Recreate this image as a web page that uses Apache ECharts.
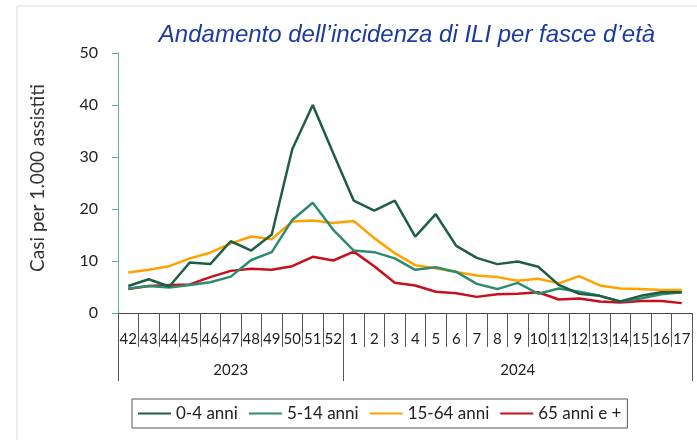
<!DOCTYPE html>
<html>
<head>
<meta charset="utf-8">
<script src="https://cdn.jsdelivr.net/npm/echarts@6/dist/echarts.min.js"></script>
<style>
html,body{margin:0;padding:0;background:#fff;}
#chart{width:697px;height:440px;}
</style>
</head>
<body>
<div id="chart"></div>
<script>
var weeks = ['42','43','44','45','46','47','48','49','50','51','52','1','2','3','4','5','6','7','8','9','10','11','12','13','14','15','16','17'];
var years = ['2023','2024'];
var yearWeekCounts = [11, 17];
var seriesNames = ['0-4 anni','5-14 anni','15-64 anni','65 anni e +'];
var age0_4 = [5.2, 6.5, 5.1, 9.7, 9.4, 13.8, 12.0, 15.1, 31.5, 40.0, 30.7, 21.6, 19.7, 21.6, 14.7, 19.0, 12.9, 10.6, 9.4, 9.9, 8.9, 5.4, 3.7, 3.3, 2.2, 3.3, 4.0, 4.0];
var age5_14 = [4.7, 5.2, 4.9, 5.4, 5.9, 7.0, 10.2, 11.7, 17.9, 21.2, 16.0, 12.0, 11.7, 10.5, 8.3, 8.8, 7.9, 5.6, 4.6, 5.8, 3.7, 4.7, 4.1, 3.3, 2.2, 2.8, 3.6, 4.0];
var age15_64 = [7.8, 8.3, 9.0, 10.5, 11.6, 13.4, 14.7, 14.2, 17.6, 17.8, 17.3, 17.7, 14.4, 11.5, 9.2, 8.6, 7.9, 7.2, 6.9, 6.2, 6.6, 5.7, 7.1, 5.3, 4.7, 4.6, 4.4, 4.4];
var age65plus = [4.6, 5.2, 5.4, 5.5, 6.9, 8.1, 8.5, 8.3, 9.0, 10.8, 10.1, 11.8, 9.0, 5.8, 5.3, 4.1, 3.8, 3.1, 3.6, 3.7, 4.0, 2.6, 2.8, 2.2, 2.0, 2.3, 2.3, 1.9];
var yTicks = {min: 0, max: 50, interval: 10};

// Year axis: label at the middle week of each year span, ticks at span boundaries
var yearLabelAt = {};
var yearStartAt = {};
var start = 0;
yearWeekCounts.forEach(function (n, k) {
  yearStartAt[start] = true;
  yearLabelAt[start + Math.floor((n - 1) / 2)] = years[k];
  start += n;
});

var colors = ['#1f5e45', '#2e8c6e', '#ffa200', '#c8101c'];
var FONT = 'Lato';

var chart = echarts.init(document.getElementById('chart'), null, {renderer: 'canvas'});
chart.setOption({
  animation: false,
  backgroundColor: '#ffffff',
  title: {
    text: 'Andamento dell\u2019incidenza di ILI per fasce d\u2019et\u00e0',
    left: 402, top: 18, textAlign: 'center',
    textStyle: {fontFamily: 'Liberation Sans', fontStyle: 'italic', fontWeight: 'normal', fontSize: 24, color: '#1a3c9e'}
  },
  graphic: [
    {type: 'polyline', shape: {points: [[17, 440], [17, 6], [697, 6]]}, style: {stroke: '#d5dcdc', lineWidth: 1, fill: null}, silent: true}
  ],
  legend: {
    data: seriesNames,
    left: 132, top: 399,
    icon: 'rect', itemWidth: 33, itemHeight: 2, itemGap: 11,
    padding: [6, 6],
    borderColor: '#555555', borderWidth: 1,
    textStyle: {fontFamily: FONT, fontSize: 17, color: '#222'}
  },
  grid: {left: 118, right: 5, top: 53, bottom: 127, containLabel: false},
  xAxis: [
    {
      type: 'category', data: weeks, position: 'bottom',
      axisLine: {show: true, lineStyle: {color: '#444', width: 1}},
      axisTick: {show: true, interval: 0, length: 34, lineStyle: {color: '#555', width: 1}},
      axisLabel: {interval: 0, margin: 19, fontFamily: FONT, fontSize: 15, color: '#222'}
    },
    {
      type: 'category', data: weeks, position: 'bottom', offset: 34,
      axisLine: {show: false},
      axisTick: {show: true, length: 34, interval: function (i) { return !!yearStartAt[i]; }, lineStyle: {color: '#555', width: 1}},
      axisLabel: {interval: 0, margin: 16, fontFamily: FONT, fontSize: 15, color: '#222',
        formatter: function (v, i) { return yearLabelAt[i] || ''; }}
    }
  ],
  yAxis: {
    type: 'value', min: yTicks.min, max: yTicks.max, interval: yTicks.interval,
    name: 'Casi per 1.000 assistiti', nameLocation: 'middle', nameGap: 71, nameRotate: 90,
    nameTextStyle: {fontFamily: FONT, fontSize: 19, color: '#333', padding: [0, 0, 0, 10]},
    axisLine: {show: true, lineStyle: {color: '#5fae90', width: 1}},
    axisTick: {show: true, length: 6, lineStyle: {color: '#5fae90'}},
    splitLine: {show: false},
    axisLabel: {margin: 20, fontFamily: FONT, fontSize: 16, color: '#222'}
  },
  series: [
    {name: seriesNames[0], type: 'line', data: age0_4},
    {name: seriesNames[1], type: 'line', data: age5_14},
    {name: seriesNames[2], type: 'line', data: age15_64},
    {name: seriesNames[3], type: 'line', data: age65plus}
  ].map(function (s, k) {
    s.showSymbol = false; s.symbol = 'none'; s.z = 10 - k;
    s.color = colors[k];
    s.lineStyle = {color: colors[k], width: 2.5};
    s.xAxisIndex = 0;
    return s;
  })
});
</script>
</body>
</html>
